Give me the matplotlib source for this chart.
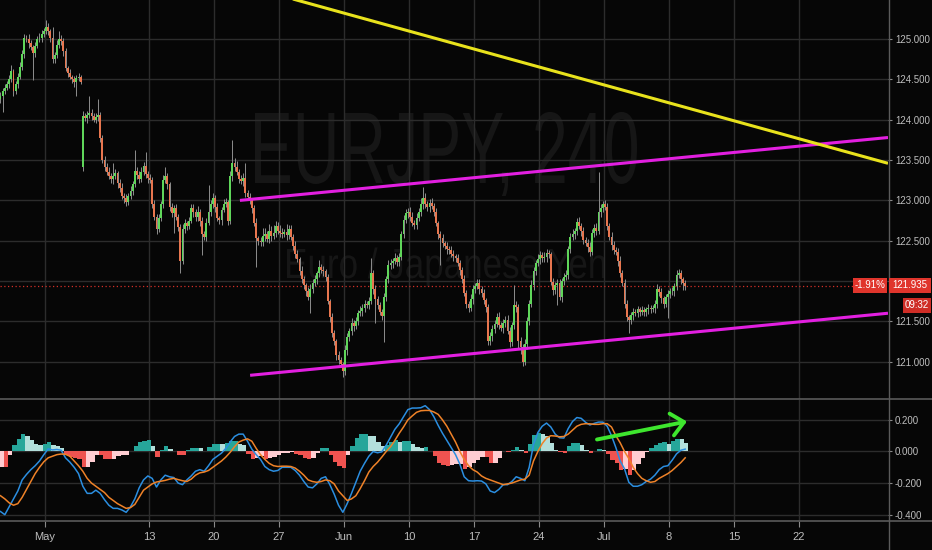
#!/usr/bin/env python3
import numpy as np
import matplotlib
matplotlib.use('Agg')
import matplotlib.pyplot as plt
from matplotlib import font_manager
from matplotlib.patches import Rectangle, PathPatch
from matplotlib.textpath import TextPath
from matplotlib.font_manager import FontProperties
from matplotlib.transforms import Affine2D
from matplotlib.lines import Line2D


# ---- EURJPY 4h closes, one per bar (6 bars per trading day) ----
CLOSES = [
  124.30, 124.36, 124.40, 124.45, 124.50, 124.60, 124.36, 124.44, 124.53, 124.66,
  124.82, 125.02, 125.00, 124.95, 124.90, 124.83, 124.92, 125.00, 125.02, 125.06,
  125.10, 125.15, 125.10, 125.02, 124.75, 124.80, 124.93, 125.00, 124.98, 124.85,
  124.64, 124.58, 124.53, 124.50, 124.47, 124.52, 124.53, 124.47, 124.05, 124.02,
  124.06, 124.09, 124.05, 124.00, 124.03, 124.06, 123.78, 123.50, 123.42, 123.35,
  123.30, 123.26, 123.30, 123.34, 123.22, 123.15, 123.06, 123.03, 122.98, 123.05,
  123.12, 123.20, 123.36, 123.32, 123.27, 123.35, 123.43, 123.33, 123.28, 123.25,
  122.95, 122.80, 122.64, 122.78, 122.95, 123.25, 123.30, 123.20, 122.92, 122.84,
  122.90, 122.80, 122.67, 122.25, 122.65, 122.72, 122.68, 122.75, 122.90, 122.85,
  122.79, 122.86, 122.74, 122.58, 122.55, 122.72, 122.85, 122.95, 123.03, 122.92,
  122.78, 122.76, 122.88, 122.96, 122.98, 122.75, 123.30, 123.47, 123.42, 123.35,
  123.27, 123.24, 123.28, 123.09, 123.04, 123.00, 122.90, 122.72, 122.53, 122.50,
  122.48, 122.56, 122.58, 122.52, 122.62, 122.56, 122.60, 122.68, 122.62, 122.60,
  122.58, 122.61, 122.57, 122.65, 122.55, 122.44, 122.34, 122.27, 122.12, 122.02,
  121.95, 121.88, 121.80, 121.90, 121.98, 122.02, 122.10, 122.17, 122.14, 122.12,
  122.05, 121.75, 121.55, 121.35, 121.25, 121.08, 121.02, 120.97, 120.88, 121.14,
  121.30, 121.38, 121.48, 121.44, 121.50, 121.60, 121.63, 121.66, 121.72, 121.70,
  121.75, 122.10, 121.90, 121.78, 121.70, 121.62, 121.57, 121.80, 122.02, 122.20,
  122.22, 122.25, 122.29, 122.24, 122.30, 122.58, 122.76, 122.84, 122.86, 122.80,
  122.72, 122.70, 122.78, 122.86, 122.95, 123.03, 122.95, 122.92, 122.97, 122.93,
  122.86, 122.72, 122.58, 122.53, 122.47, 122.44, 122.40, 122.38, 122.34, 122.31,
  122.28, 122.22, 122.14, 122.02, 121.85, 121.72, 121.67, 121.78, 121.90, 121.94,
  121.97, 121.90, 121.85, 121.76, 121.68, 121.25, 121.32, 121.40, 121.47, 121.55,
  121.45, 121.42, 121.48, 121.52, 121.38, 121.24, 121.45, 121.70, 121.68, 121.25,
  121.18, 121.00, 121.22, 121.50, 121.72, 121.95, 122.12, 122.22, 122.27, 122.32,
  122.28, 122.30, 122.35, 122.33, 121.99, 121.89, 121.95, 121.97, 121.80, 122.00,
  122.05, 122.08, 122.40, 122.55, 122.58, 122.62, 122.73, 122.68, 122.62, 122.51,
  122.47, 122.42, 122.36, 122.60, 122.66, 122.62, 122.86, 122.90, 122.95, 122.92,
  122.68, 122.55, 122.45, 122.38, 122.36, 122.25, 122.10, 121.98, 121.72, 121.55,
  121.52, 121.58, 121.62, 121.60, 121.65, 121.62, 121.64, 121.61, 121.65, 121.67,
  121.65, 121.66, 121.72, 121.90, 121.86, 121.79, 121.72, 121.80, 121.84, 121.87,
  121.88, 121.94, 122.08, 122.10, 122.02, 121.97, 121.935,
]
# opens follow the previous close except at these bars (first bar, weekend gap)
OPEN_GAPS = {0: 124.26, 38: 123.42}

# wick lengths in pips (0.01 JPY) above / below the candle body
UP_WICK = [
  4, 3, 5, 3, 6, 8, 3, 4, 5, 6,   5, 4, 3, 6, 4, 3, 5, 4, 6, 5,
  4, 9, 5, 3, 13, 4, 6, 10, 5, 3,  4, 3, 5, 2, 4, 3, 5, 3, 6, 4,
  5, 21, 4, 3, 5, 20, 4, 3, 5, 4,  6, 4, 17, 5, 3, 4, 6, 3, 5, 4,
  6, 4, 26, 5, 4, 6, 5, 17, 4, 5,  4, 6, 3, 5, 4, 6, 11, 4, 3, 5,
  4, 5, 3, 4, 6, 5, 3, 4, 6, 5,   4, 7, 3, 5, 4, 6, 34, 5, 6, 4,
  5, 3, 4, 6, 5, 3, 6, 28, 5, 7,  4, 5, 6, 19, 4, 5, 3, 4, 6, 3,
  5, 10, 8, 4, 9, 6, 10, 7, 5, 8,  6, 4, 10, 5, 4, 3, 5, 4, 3, 6,
  4, 3, 5, 6, 4, 5, 3, 9, 4, 5,   3, 4, 3, 5, 4, 3, 5, 4, 3, 6,
  5, 4, 6, 3, 5, 4, 6, 5, 4, 3,   5, 18, 4, 5, 3, 4, 3, 5, 4, 6,
  5, 4, 6, 3, 5, 4, 6, 5, 4, 6,   5, 4, 6, 5, 8, 13, 6, 4, 5, 6,
  4, 5, 3, 4, 5, 3, 4, 3, 5, 4,   3, 5, 4, 3, 5, 4, 3, 6, 5, 4,
  5, 6, 4, 5, 3, 4, 5, 6, 4, 5,   6, 4, 5, 4, 6, 5, 4, 25, 5, 4,
  5, 4, 6, 5, 4, 6, 5, 4, 6, 5,   4, 6, 5, 4, 3, 5, 4, 6, 5, 4,
  5, 6, 4, 5, 6, 4, 5, 6, 4, 5,   4, 5, 6, 4, 5, 6, 49, 5, 4, 6,
  5, 4, 6, 5, 4, 5, 6, 4, 5, 4,   3, 4, 5, 3, 4, 3, 5, 4, 3, 4,
  3, 4, 5, 6, 4, 5, 3, 4, 5, 4,   5, 4, 6, 5, 4, 3, 4,
]
DN_WICK = [
  5, 20, 4, 3, 5, 3, 6, 4, 5, 3,  4, 5, 3, 6, 4, 34, 5, 3, 4, 5,
  3, 4, 5, 6, 4, 5, 3, 4, 5, 6,   4, 5, 3, 4, 6, 17, 4, 3, 5, 4,
  6, 4, 5, 3, 4, 5, 6, 4, 5, 3,   4, 5, 6, 4, 7, 5, 4, 6, 5, 4,
  3, 5, 4, 6, 5, 4, 3, 5, 6, 4,   5, 4, 6, 3, 4, 5, 4, 6, 5, 4,
  24, 4, 5, 15, 4, 6, 5, 4, 3, 5,  4, 5, 6, 26, 4, 5, 3, 4, 5, 6,
  4, 5, 6, 3, 4, 5, 4, 6, 5, 4,   5, 4, 6, 5, 4, 5, 6, 4, 36, 5,
  4, 5, 6, 4, 5, 6, 4, 5, 4, 6,   5, 4, 6, 5, 4, 5, 6, 4, 5, 4,
  5, 6, 4, 20, 5, 4, 6, 5, 4, 6,  5, 4, 6, 5, 4, 6, 5, 4, 7, 5,
  6, 4, 5, 6, 4, 5, 4, 6, 5, 4,   5, 4, 6, 30, 5, 4, 6, 33, 5, 4,
  5, 6, 4, 5, 6, 4, 5, 4, 6, 5,   4, 5, 6, 4, 5, 6, 4, 5, 6, 4,
  5, 4, 6, 33, 5, 4, 6, 5, 4, 6,  5, 4, 6, 5, 4, 6, 5, 4, 6, 5,
  4, 6, 5, 4, 6, 5, 4, 6, 5, 4,   5, 4, 6, 5, 4, 6, 5, 4, 6, 8,
  8, 5, 4, 6, 5, 4, 6, 5, 4, 6,   5, 4, 6, 5, 4, 6, 5, 25, 4, 6,
  5, 4, 6, 5, 4, 6, 5, 4, 6, 5,   4, 6, 5, 4, 6, 5, 4, 6, 5, 4,
  5, 4, 6, 5, 4, 6, 5, 4, 6, 5,   17, 5, 6, 4, 5, 6, 4, 5, 4, 6,
  5, 4, 6, 5, 4, 6, 5, 4, 26, 5,  4, 6, 5, 4, 6, 8, 5,
]

# MACD (12, 26, 9) read every second bar
MACD_STEP = 2
MACD_LINE = [
  -0.38, -0.40, -0.35, -0.30, -0.25, -0.18, -0.145, -0.115, -0.09, -0.06,
  -0.02, 0.017, 0.01, 0.013, 0.008, -0.04, -0.067, -0.10, -0.14, -0.22,
  -0.265, -0.265, -0.245, -0.265, -0.305, -0.34, -0.36, -0.36, -0.37, -0.385,
  -0.35, -0.30, -0.23, -0.18, -0.155, -0.17, -0.225, -0.18, -0.15, -0.16,
  -0.165, -0.20, -0.21, -0.18, -0.155, -0.125, -0.115, -0.125, -0.09, -0.05,
  -0.03, -0.01, 0.02, 0.06, 0.095, 0.11, 0.11, 0.065, 0.015, -0.02,
  -0.05, -0.095, -0.115, -0.125, -0.12, -0.10, -0.10, -0.10, -0.12, -0.15,
  -0.19, -0.225, -0.23, -0.205, -0.17, -0.16, -0.21, -0.27, -0.34, -0.385,
  -0.33, -0.265, -0.195, -0.125, -0.075, -0.03, 0.0, -0.008, -0.002, 0.04,
  0.09, 0.14, 0.175, 0.22, 0.265, 0.275, 0.275, 0.277, 0.29, 0.265,
  0.22, 0.165, 0.115, 0.07, 0.025, -0.02, -0.08, -0.16, -0.185, -0.187,
  -0.185, -0.187, -0.205, -0.25, -0.26, -0.24, -0.21, -0.21, -0.19, -0.16,
  -0.17, -0.185, -0.10, 0.045, 0.12, 0.16, 0.18, 0.155, 0.11, 0.087,
  0.085, 0.145, 0.19, 0.215, 0.21, 0.185, 0.168, 0.178, 0.186, 0.186,
  0.16, 0.10, 0.025, -0.06, -0.11, -0.195, -0.22, -0.22, -0.21, -0.19,
  -0.175, -0.15, -0.115, -0.095, -0.09, -0.055, -0.015, 0.008, 0.015,
]
SIGNAL_LINE = [
  -0.28, -0.30, -0.325, -0.34, -0.33, -0.29, -0.24, -0.19, -0.14, -0.10,
  -0.065, -0.04, -0.03, -0.02, -0.016, -0.018, -0.03, -0.06, -0.09, -0.125,
  -0.17, -0.20, -0.22, -0.24, -0.26, -0.29, -0.31, -0.33, -0.345, -0.36,
  -0.355, -0.335, -0.29, -0.245, -0.225, -0.205, -0.193, -0.188, -0.183, -0.175,
  -0.17, -0.178, -0.185, -0.19, -0.175, -0.15, -0.135, -0.13, -0.12, -0.10,
  -0.08, -0.06, -0.035, -0.005, 0.03, 0.06, 0.072, 0.08, 0.065, 0.02,
  -0.02, -0.05, -0.075, -0.09, -0.095, -0.093, -0.093, -0.095, -0.105, -0.125,
  -0.15, -0.18, -0.19, -0.195, -0.19, -0.18, -0.185, -0.205, -0.25, -0.28,
  -0.31, -0.30, -0.28, -0.235, -0.185, -0.13, -0.095, -0.068, -0.035, 0.0,
  0.03, 0.07, 0.115, 0.155, 0.20, 0.225, 0.248, 0.258, 0.26, 0.26,
  0.25, 0.235, 0.20, 0.16, 0.11, 0.06, 0.0, -0.05, -0.09, -0.115,
  -0.13, -0.155, -0.17, -0.18, -0.19, -0.20, -0.21, -0.205, -0.20, -0.19,
  -0.18, -0.175, -0.15, -0.06, 0.0, 0.05, 0.085, 0.10, 0.098, 0.093,
  0.095, 0.11, 0.135, 0.16, 0.172, 0.176, 0.175, 0.172, 0.172, 0.176,
  0.176, 0.155, 0.10, 0.055, 0.0, -0.045, -0.10, -0.14, -0.17, -0.185,
  -0.195, -0.19, -0.17, -0.155, -0.14, -0.12, -0.095, -0.07, -0.04,
]

# calendar: three bars of Apr 25 come before the first full day
FIRST_DAY = '2019-04-26'
LEAD_BARS = 3
BARS_PER_DAY = 6
DATE_TICKS = ['2019-05-01', '2019-05-13', '2019-05-20', '2019-05-27', '2019-06-03',
              '2019-06-10', '2019-06-17', '2019-06-24', '2019-07-01', '2019-07-08',
              '2019-07-15', '2019-07-22']
DATE_LABELS = ['May', '13', '20', '27', 'Jun', '10', '17', '24', 'Jul', '8', '15', '22']

PRICE_TICKS = [121.0, 121.5, 122.0, 122.5, 123.0, 123.5, 124.0, 124.5, 125.0]
MACD_TICKS = [0.2, 0.0, -0.2, -0.4]

LAST_PRICE = 121.935
CHANGE_TXT = '-1.91%'
COUNTDOWN = '09:32'
WATERMARK = 'EURJPY, 240'
WATERMARK_SUB = 'Euro / Japanese Yen'

# drawings: (bar, price) end points
UPPER_CHANNEL = ([110.5, 409.6], [123.00, 123.78])
LOWER_CHANNEL = ([115.2, 409.6], [120.83, 121.60])
FALLING_LINE = ([130.0, 409.6], [125.535, 123.46])
MACD_ARROW = ([275.3, 316.8], [0.076, 0.19])


BG = '#060606'
GRID = '#2c2c2c'
SEP = '#5a5a5a'
TXT = '#bdbdbd'
UP = '#5fd65a'
DOWN = '#e8764f'
WICK = '#8e8e8e'

W, H = 932, 550

names = {f.name for f in font_manager.fontManager.ttflist}
AXIS_FONT = 'Liberation Sans' if 'Liberation Sans' in names else 'DejaVu Sans'
plt.rcParams['font.family'] = [AXIS_FONT, 'DejaVu Sans']


def rect(x0, y0, x1, y1):
  # pixel box (top-left origin) -> figure fraction
  return [x0 / W, 1 - y1 / H, (x1 - x0) / W, (y1 - y0) / H]


def stretched_text(ax, fig, s, x_left, x_right, y_top, y_base, color):
  prop = FontProperties(family=AXIS_FONT)
  tp = TextPath((0, 0), s, size=100, prop=prop)
  cap = TextPath((0, 0), 'E', size=100, prop=prop).get_extents()
  ext = tp.get_extents()
  sx = (x_right - x_left) / ext.width
  sy = (y_base - y_top) / cap.y1
  tr = (Affine2D().translate(-ext.x0, 0).scale(sx / W, sy / H)
        .translate(x_left / W, 1 - y_base / H) + fig.transFigure)
  ax.add_patch(PathPatch(tp, transform=tr, fc=color, ec='none', zorder=0.3))


def main():
  closes = np.array(CLOSES)
  n = len(closes)
  bars = np.arange(n)
  opens = np.r_[closes[0], closes[:-1]]
  for i, o in OPEN_GAPS.items():
    opens[i] = o
  top = np.maximum(opens, closes)
  bot = np.minimum(opens, closes)
  highs = top + np.array(UP_WICK) / 100.0
  lows = bot - np.array(DN_WICK) / 100.0
  colors = [UP if c >= o else DOWN for o, c in zip(opens, closes)]

  fig = plt.figure(figsize=(W / 100, H / 100), dpi=100, facecolor=BG)
  ax = fig.add_axes(rect(0, 0, 888, 399), facecolor=BG)
  mx = fig.add_axes(rect(0, 400, 888, 521), facecolor=BG)

  tick_bars = [LEAD_BARS + BARS_PER_DAY * np.busday_count(FIRST_DAY, d) - 0.5 for d in DATE_TICKS]

  # ---- price panel ----
  stretched_text(ax, fig, WATERMARK, 255, 637, 113, 183, '#161616')
  stretched_text(ax, fig, WATERMARK_SUB, 287, 605, 249, 278, '#161616')

  ax.vlines(bars, lows, highs, color=WICK, lw=0.7, zorder=2)
  ax.bar(bars, np.maximum(top - bot, 0.006), bottom=bot, width=0.85,
         color=colors, lw=0, zorder=3)

  ax.plot(*UPPER_CHANNEL, color='#e21fe0', lw=2.2, zorder=4, solid_capstyle='butt')
  ax.plot(*LOWER_CHANNEL, color='#e21fe0', lw=2.2, zorder=4, solid_capstyle='butt')
  ax.plot(*FALLING_LINE, color='#e8e21c', lw=2.2, zorder=4, solid_capstyle='butt')
  ax.axhline(LAST_PRICE, color='#d12f26', lw=0.9, ls=(0, (1, 2)), zorder=1.5)

  ax.set_xlim(-0.23, 409.6)
  ax.set_ylim(120.536, 125.486)
  ax.set_yticks(PRICE_TICKS)
  # the last-price tag hides the label it sits on
  ax.set_yticklabels(['' if abs(v - LAST_PRICE) < 0.1 else '{:.3f}'.format(v) for v in PRICE_TICKS])
  ax.yaxis.tick_right()
  ax.set_xticks(tick_bars)
  ax.set_xticklabels([])
  ax.tick_params(axis='x', length=0)
  ax.tick_params(axis='y', colors=TXT, labelsize=7, length=3, pad=2, width=0.8)
  ax.tick_params(axis='y', color='#8a8a8a')
  ax.set_axisbelow(True)
  ax.grid(True, color=GRID, lw=1)

  # ---- MACD panel ----
  idx = np.arange(len(MACD_LINE)) * MACD_STEP
  macd = np.array(MACD_LINE)
  sig = np.array(SIGNAL_LINE)
  hist = macd - sig
  prev = np.r_[hist[0], hist[:-1]]
  hcol = []
  for h, p in zip(hist, prev):
    if h >= 0:
      hcol.append('#26a69a' if h >= p else '#b2dfdb')
    else:
      hcol.append('#ffcdd2' if h >= p else '#ef5350')
  mx.bar(idx - 0.5, hist, width=MACD_STEP, align='edge', color=hcol, lw=0, zorder=2)
  mx.plot(idx, macd, color='#2b8ee0', lw=1.1, zorder=3)
  mx.plot(idx, sig, color='#ef8228', lw=1.1, zorder=3)

  mx.annotate('', xy=(MACD_ARROW[0][1], MACD_ARROW[1][1]),
              xytext=(MACD_ARROW[0][0], MACD_ARROW[1][0]),
              arrowprops=dict(arrowstyle='->,head_length=0.45,head_width=0.4',
                              color='#3ee62e', lw=2.8, mutation_scale=20,
                              shrinkA=0, shrinkB=0),
              zorder=5)

  mx.set_xlim(-0.23, 409.6)
  mx.set_ylim(-0.44, 0.326)
  mx.set_yticks(MACD_TICKS)
  mx.set_yticklabels(['{:.3f}'.format(v) for v in MACD_TICKS])
  mx.yaxis.tick_right()
  mx.set_xticks(tick_bars)
  mx.set_xticklabels(DATE_LABELS)
  mx.tick_params(axis='y', colors=TXT, labelsize=7, length=3, pad=2, width=0.8)
  mx.tick_params(axis='y', color='#8a8a8a')
  mx.tick_params(axis='x', colors=TXT, labelsize=8, length=4, pad=4, width=0.8)
  mx.tick_params(axis='x', color='#8a8a8a')
  mx.set_axisbelow(True)
  mx.grid(True, color=GRID, lw=1)

  for a in (ax, mx):
    for side in ('top', 'left', 'bottom', 'right'):
      a.spines[side].set_visible(False)

  # separators: under price pane, under MACD pane, price scale border
  fig.add_artist(Line2D([0, 1], [1 - 399 / H] * 2, color=SEP, lw=1.2, transform=fig.transFigure))
  fig.add_artist(Line2D([0, 1], [1 - 521 / H] * 2, color=SEP, lw=1.2, transform=fig.transFigure))
  fig.add_artist(Line2D([888.5 / W] * 2, [0, 1], color=SEP, lw=1.0, transform=fig.transFigure))

  # last price tags
  for (x0, y0, x1, y1), s, fc in [((853, 278, 887, 293), CHANGE_TXT, '#e0352c'),
                                  ((889, 278, 931, 293), '{:.3f}'.format(LAST_PRICE), '#e0352c'),
                                  ((903, 298, 931, 313), COUNTDOWN, '#cf2d26')]:
    r = rect(x0, y0, x1, y1)
    fig.add_artist(Rectangle((r[0], r[1]), r[2], r[3], transform=fig.transFigure,
                             fc=fc, ec='none', zorder=6))
    fig.text(r[0] + r[2] / 2, r[1] + r[3] / 2, s, color='white', fontsize=7,
             ha='center', va='center', zorder=7)

  fig.savefig('out.png', dpi=100, facecolor=BG)


if __name__ == '__main__':
  main()
